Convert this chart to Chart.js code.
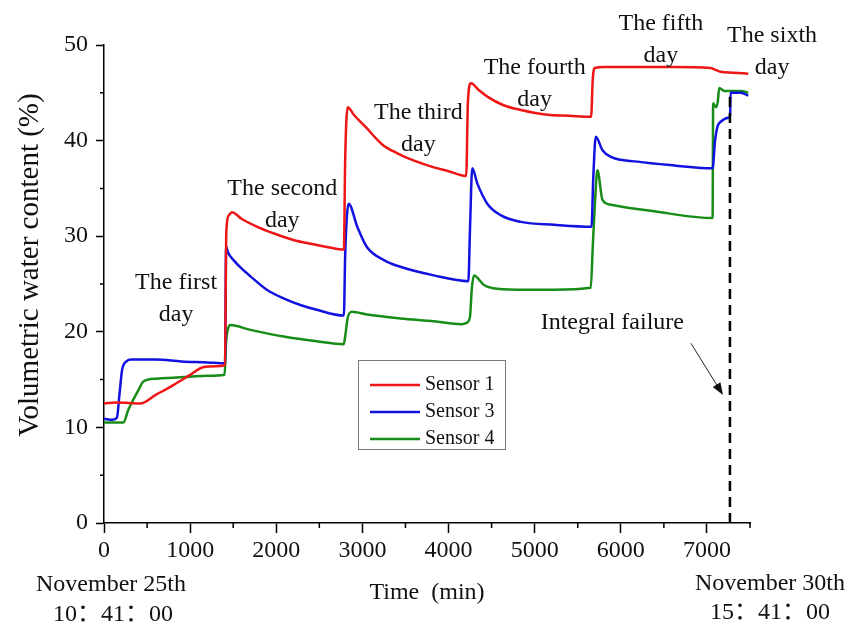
<!DOCTYPE html>
<html>
<head>
<meta charset="utf-8">
<script src="https://cdn.jsdelivr.net/npm/chart.js@4.4.0/dist/chart.umd.min.js"></script>
<style>
  body { margin: 0; background: #fff; }
  #wrap { width: 862px; height: 625px; }
</style>
</head>
<body>
<div id="wrap"><canvas id="myChart" width="862" height="625"></canvas></div>
<script>
// series (time in min, volumetric water content in %)
var s1Time = [0, 150, 420, 600, 800, 1000, 1150, 1300, 1405, 1420, 1450, 1485, 1600, 1800, 2000, 2200, 2400, 2600, 2785,
              2800, 2830, 2900, 3040, 3230, 3400, 3600, 3830, 4000, 4205, 4225, 4260, 4350, 4450, 4640, 4840, 5150, 5400, 5655,
              5675, 5700, 5800, 6200, 6600, 7040, 7100, 7160, 7300, 7480];
var s1Value = [12.5, 12.6, 12.5, 13.4, 14.4, 15.5, 16.3, 16.4, 16.5, 30.5, 32.2, 32.5, 31.8, 30.9, 30.2, 29.6, 29.2, 28.85, 28.6,
               38.0, 43.5, 42.7, 41.4, 39.6, 38.7, 37.9, 37.2, 36.8, 36.3, 44.0, 46.0, 45.3, 44.6, 43.7, 43.2, 42.7, 42.6, 42.5,
               46.5, 47.6, 47.7, 47.7, 47.7, 47.6, 47.4, 47.2, 47.1, 47.0];

var s3Time = [0, 100, 150, 180, 210, 260, 320, 600, 900, 1200, 1405, 1418, 1440, 1504, 1600, 1700, 1890, 2085, 2280, 2470,
              2785, 2800, 2840, 2940, 3050, 3250, 3440, 3830, 4230, 4250, 4275, 4335, 4450, 4605, 4840, 5225, 5660, 5680, 5709, 5787,
              5884, 6194, 6620, 7066, 7093, 7124, 7163, 7250, 7268, 7275, 7395, 7480];
var s3Value = [10.9, 10.8, 11.0, 13.5, 16.0, 16.9, 17.1, 17.1, 16.9, 16.8, 16.7, 28.9, 28.3, 27.5, 26.6, 25.8, 24.4, 23.5, 22.8, 22.3,
               21.7, 28.0, 33.4, 31.0, 28.9, 27.5, 26.8, 25.9, 25.3, 31.0, 37.1, 35.5, 33.4, 32.2, 31.5, 31.2, 31.0, 36.0, 40.4, 39.0,
               38.3, 37.8, 37.4, 37.1, 39.9, 41.5, 42.0, 42.4, 42.5, 45.0, 45.0, 44.7];

var s4Time = [0, 225, 280, 340, 400, 457, 612, 800, 1000, 1200, 1400, 1418, 1440, 1465, 1700, 2085, 2470, 2783, 2800, 2830,
              2880, 3054, 3442, 3829, 4150, 4200, 4248, 4270, 4295, 4411, 4566, 4900, 5225, 5651, 5675, 5700, 5729, 5787, 5884, 6388,
              7066, 7072, 7105, 7125, 7143, 7201, 7395, 7480];
var s4Value = [10.5, 10.5, 11.8, 12.9, 13.9, 14.8, 15.1, 15.2, 15.3, 15.4, 15.5, 19.0, 20.3, 20.7, 20.2, 19.5, 19.0, 18.7, 19.5, 21.5,
               22.1, 21.8, 21.4, 21.1, 20.8, 20.9, 21.5, 24.5, 25.9, 24.9, 24.5, 24.4, 24.4, 24.6, 29.0, 33.5, 36.9, 33.8, 33.3, 32.6,
               31.9, 43.9, 43.5, 44.0, 45.5, 45.2, 45.2, 45.0];

var seriesLabels = ['Sensor 1', 'Sensor 3', 'Sensor 4'];
var seriesColors = ['#ee1515', '#1212e0', '#178c17'];

// failure marker
var failureTime = 7267;
var failureRange = [0, 45];

// day annotations (center x, first line y in data units)
var dayLines1 = ['The first', 'The second', 'The third', 'The fourth', 'The fifth', 'The sixth'];
var dayX = [837, 2070, 3650, 5000, 6465, 7756];
var dayY = [25.1, 35.0, 42.9, 47.6, 52.2, 51.0];

// axes
var xMin = 0, xMax = 7500;
var xTickValues = [0, 1000, 2000, 3000, 4000, 5000, 6000, 7000];
var xMinorValues = [500, 1500, 2500, 3500, 4500, 5500, 6500, 7500];
var yMin = 0, yMax = 50;
var yTickValues = [0, 10, 20, 30, 40, 50];
var yMinorValues = [5, 15, 25, 35, 45];

function zip(t, v) {
  return t.map(function (x, i) { return {x: x, y: v[i]}; });
}

var FONT = '"Liberation Serif", "Noto Sans CJK SC", serif';

function drawText(ctx, text, x, y, size, align, rotate) {
  ctx.save();
  ctx.translate(x, y);
  if (rotate) ctx.rotate(-Math.PI / 2);
  ctx.font = size + 'px ' + FONT;
  ctx.fillStyle = '#111';
  ctx.textAlign = align || 'center';
  ctx.textBaseline = 'middle';
  ctx.fillText(text, 0, 0);
  ctx.restore();
}

var decorations = {
  id: 'decorations',
  afterDraw: function (chart) {
    var ctx = chart.ctx, xs = chart.scales.x, ys = chart.scales.y, area = chart.chartArea;

    // minor ticks
    ctx.save();
    ctx.strokeStyle = '#000';
    ctx.lineWidth = 1.5;
    ctx.beginPath();
    xMinorValues.forEach(function (v) {
      var px = xs.getPixelForValue(v);
      ctx.moveTo(px, area.bottom); ctx.lineTo(px, area.bottom + 5);
    });
    yMinorValues.forEach(function (v) {
      var py = ys.getPixelForValue(v);
      ctx.moveTo(area.left, py); ctx.lineTo(area.left - 4, py);
    });
    ctx.stroke();
    ctx.restore();

    // tick labels
    xs.ticks.forEach(function (t) {
      drawText(ctx, String(t.value), xs.getPixelForValue(t.value), area.bottom + 28, 24, 'center');
    });
    ys.ticks.forEach(function (t) {
      drawText(ctx, String(t.value), area.left - 16, ys.getPixelForValue(t.value), 24, 'right');
    });

    // axis titles and dates
    drawText(ctx, 'Volumetric water content (%)', 30, 265, 29, 'center', true);
    drawText(ctx, 'Time\u2002(min)', (area.left + area.right) / 2, area.bottom + 70, 24, 'center');
    drawText(ctx, 'November 25th', area.left + 7, area.bottom + 62, 24, 'center');
    drawText(ctx, '10：41：00', area.left + 9, area.bottom + 92, 24, 'center');
    drawText(ctx, 'November 30th', area.right + 20, area.bottom + 61, 24, 'center');
    drawText(ctx, '15：41：00', area.right + 20, area.bottom + 90, 24, 'center');

    // day labels
    dayLines1.forEach(function (txt, i) {
      var cx = xs.getPixelForValue(dayX[i]);
      var cy = ys.getPixelForValue(dayY[i]);
      drawText(ctx, txt, cx, cy, 24, 'center');
      drawText(ctx, 'day', cx, cy + 32, 24, 'center');
    });

    // integral failure note + arrow
    drawText(ctx, 'Integral failure', xs.getPixelForValue(5070), ys.getPixelForValue(21), 24, 'left');
    var ax0 = xs.getPixelForValue(6814), ay0 = ys.getPixelForValue(18.8);
    var ax1 = xs.getPixelForValue(7186), ay1 = ys.getPixelForValue(13.4);
    var ang = Math.atan2(ay1 - ay0, ax1 - ax0);
    ctx.save();
    ctx.strokeStyle = '#222';
    ctx.fillStyle = '#111';
    ctx.lineWidth = 1;
    ctx.beginPath();
    ctx.moveTo(ax0, ay0);
    ctx.lineTo(ax1 - 8 * Math.cos(ang), ay1 - 8 * Math.sin(ang));
    ctx.stroke();
    ctx.beginPath();
    ctx.moveTo(ax1, ay1);
    ctx.lineTo(ax1 - 12 * Math.cos(ang) + 4.5 * Math.sin(ang), ay1 - 12 * Math.sin(ang) - 4.5 * Math.cos(ang));
    ctx.lineTo(ax1 - 12 * Math.cos(ang) - 4.5 * Math.sin(ang), ay1 - 12 * Math.sin(ang) + 4.5 * Math.cos(ang));
    ctx.closePath();
    ctx.fill();
    ctx.restore();

    // legend box (sensor datasets only)
    var lx = 358, ly = 360, lw = 147, lh = 89;
    ctx.save();
    ctx.strokeStyle = '#777';
    ctx.lineWidth = 1;
    ctx.strokeRect(lx + 0.5, ly + 0.5, lw, lh);
    var sensors = chart.data.datasets.filter(function (d) { return d.label !== 'failure'; });
    sensors.forEach(function (d, k) {
      var rowY = ly + 25 + k * 27;
      ctx.strokeStyle = d.borderColor;
      ctx.lineWidth = 2.5;
      ctx.beginPath();
      ctx.moveTo(lx + 12, rowY); ctx.lineTo(lx + 62, rowY);
      ctx.stroke();
      drawText(ctx, d.label, lx + 67, rowY, 20, 'left');
    });
    ctx.restore();
  }
};

var datasets = [
  {label: seriesLabels[0], data: zip(s1Time, s1Value), borderColor: seriesColors[0]},
  {label: seriesLabels[1], data: zip(s3Time, s3Value), borderColor: seriesColors[1]},
  {label: seriesLabels[2], data: zip(s4Time, s4Value), borderColor: seriesColors[2]}
].map(function (d) {
  d.borderWidth = 2.5;
  d.pointRadius = 0;
  d.cubicInterpolationMode = 'monotone';
  d.fill = false;
  return d;
});

datasets.unshift({
  label: 'failure',
  data: [{x: failureTime, y: failureRange[0]}, {x: failureTime, y: failureRange[1]}],
  borderColor: '#000',
  borderWidth: 2.5,
  borderDash: [10, 6],
  pointRadius: 0,
  clip: false
});

var ctx = document.getElementById('myChart').getContext('2d');
var myChart = new Chart(ctx, {
  type: 'line',
  data: {datasets: datasets},
  options: {
    responsive: false,
    animation: false,
    layout: {padding: {left: 0, right: 112, top: 45, bottom: 0}},
    plugins: {legend: {display: false}, tooltip: {enabled: false}},
    scales: {
      x: {
        type: 'linear',
        min: xMin, max: xMax,
        ticks: {display: false},
        afterBuildTicks: function (s) { s.ticks = xTickValues.map(function (v) { return {value: v}; }); },
        grid: {drawOnChartArea: false, tickLength: 10, tickColor: '#000', tickWidth: 1.5},
        border: {color: '#000', width: 1.5},
        afterFit: function (s) { s.height = 102; }
      },
      y: {
        min: yMin, max: yMax,
        ticks: {display: false},
        afterBuildTicks: function (s) { s.ticks = yTickValues.map(function (v) { return {value: v}; }); },
        grid: {drawOnChartArea: false, tickLength: 8, tickColor: '#000', tickWidth: 1.5},
        border: {color: '#000', width: 1.5},
        afterFit: function (s) { s.width = 104; }
      }
    }
  },
  plugins: [decorations]
});
</script>
</body>
</html>
